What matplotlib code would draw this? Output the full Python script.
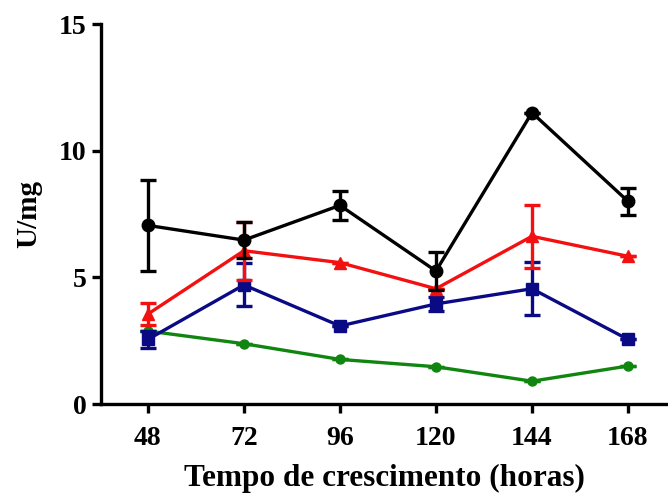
import matplotlib
matplotlib.use("Agg")
import matplotlib.pyplot as plt

plt.rcParams['font.family'] = ['Liberation Serif', 'DejaVu Serif']
plt.rcParams['font.weight'] = 'bold'

hours = [48, 72, 96, 120, 144, 168]

black_vals = [7.05, 6.47, 7.84, 5.25, 11.50, 8.00]
black_err = [1.80, 0.72, 0.57, 0.75, 0.0, 0.52]

red_vals = [3.55, 6.05, 5.58, 4.55, 6.62, 5.83]
red_err = [0.45, 1.15, 0.0, 0.0, 1.25, 0.0]

blue_vals = [2.55, 4.70, 3.08, 3.95, 4.55, 2.55]
blue_err = [0.35, 0.85, 0.0, 0.28, 1.05, 0.0]

green_vals = [2.88, 2.38, 1.76, 1.47, 0.90, 1.50]
green_err = [0.0, 0.0, 0.0, 0.0, 0.0, 0.0]

yticks = [0, 5, 10, 15]

fig = plt.figure(figsize=(6.68, 5), dpi=100)
ax = fig.add_axes([0.151, 0.192, 0.849, 0.760])

lw = 2.4
common = dict(linewidth=lw, elinewidth=lw, capthick=lw, capsize=6, clip_on=False)
ax.errorbar(hours, green_vals, yerr=green_err, color='#108510', marker='o', markersize=6.5, zorder=2, **common)
ax.errorbar(hours, blue_vals, yerr=blue_err, color='#0a0a85', marker='s', markersize=8, zorder=3, **common)
ax.errorbar(hours, red_vals, yerr=red_err, color='#f21010', marker='^', markersize=8.5, zorder=4, **common)
ax.errorbar(hours, black_vals, yerr=black_err, color='black', marker='o', markersize=9, zorder=5, **common)

ax.set_xlim(36.25, 178)
ax.set_ylim(0, 15)
ax.set_xticks(hours)
ax.set_yticks(yticks)
ax.set_xticklabels([str(h) for h in hours])
ax.set_yticklabels([str(t) for t in yticks])

for s in ['top', 'right']:
    ax.spines[s].set_visible(False)
for s in ['left', 'bottom']:
    ax.spines[s].set_linewidth(lw)

ax.tick_params(axis='both', direction='out', length=6.5, width=lw, labelsize=20)
ax.tick_params(axis='x', pad=9)
ax.tick_params(axis='y', pad=4)
for lab in ax.get_xticklabels() + ax.get_yticklabels():
    lab.set_fontweight('bold')

ax.set_xlabel('Tempo de crescimento (horas)', fontsize=22.5, fontweight='bold', labelpad=10)
ax.set_ylabel('U/mg', fontsize=21, fontweight='bold', labelpad=12)

fig.savefig('out.png', dpi=100)
